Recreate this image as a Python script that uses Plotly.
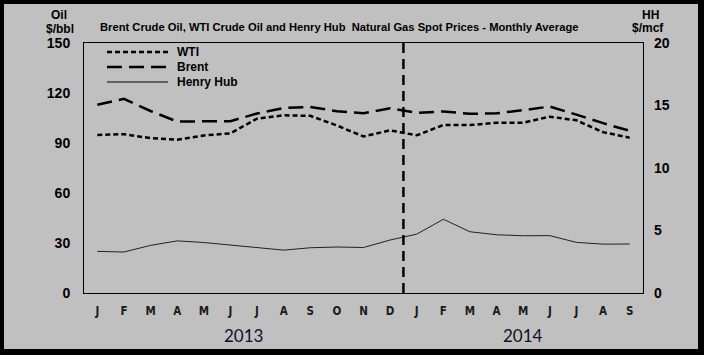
import plotly.graph_objects as go

# ---- data ----
months = ["J", "F", "M", "A", "M", "J", "J", "A", "S", "O", "N", "D",
          "J", "F", "M", "A", "M", "J", "J", "A", "S"]
years = ["2013", "2014"]
wti = [94.8, 95.3, 92.9, 92.0, 94.5, 95.8, 104.6, 106.6, 106.3, 100.5, 93.9, 97.6,
       94.6, 100.8, 100.8, 102.1, 102.2, 105.8, 103.6, 96.5, 93.2]
brent = [112.9, 116.5, 109.2, 102.9, 103.0, 103.1, 107.7, 111.0, 111.6, 109.1, 107.8, 110.8,
         108.1, 108.9, 107.5, 107.8, 109.7, 111.9, 107.0, 101.9, 97.3]
henry_hub = [3.33, 3.28, 3.81, 4.17, 4.04, 3.83, 3.62, 3.43, 3.62, 3.68, 3.64, 4.24,
             4.71, 5.90, 4.90, 4.66, 4.58, 4.59, 4.05, 3.91, 3.92]
oil_ticks = [0, 30, 60, 90, 120, 150]
hh_ticks = [0, 5, 10, 15, 20]

x = list(range(len(months)))

W, H = 704, 355
L, R, T, B = 84, 61, 43, 62
pw, ph = W - L - R, H - T - B


def px(v):
    return (v - L) / pw


def py(v):
    return (H - B - v) / ph


BOLD = "Liberation Sans"
fig = go.Figure()

fig.add_trace(go.Scatter(x=x, y=wti, mode="lines", name="WTI",
                         line=dict(color="black", width=2.5, dash="5px,3px")))
fig.add_trace(go.Scatter(x=x, y=brent, mode="lines", name="Brent",
                         line=dict(color="black", width=2.5, dash="15px,7px")))
fig.add_trace(go.Scatter(x=x, y=henry_hub, mode="lines", name="Henry Hub", yaxis="y2",
                         line=dict(color="#222222", width=1)))

shapes = []
# year divider
shapes.append(dict(type="line", xref="x", yref="paper", x0=11.5, x1=11.5, y0=0, y1=1,
                   line=dict(color="black", width=2.5, dash="10px,6px")))
# legend samples
leg = [("WTI", "5px,3px", 2.5, 52), ("Brent", "15px,7px", 2.5, 67), ("Henry Hub", "solid", 1, 82)]
annotations = []
for name, dash, wdt, yy in leg:
    shapes.append(dict(type="line", xref="paper", yref="paper", x0=px(107), x1=px(168),
                       y0=py(yy), y1=py(yy), line=dict(color="black", width=wdt, dash=dash)))
    annotations.append(dict(text="<b>%s</b>" % name, xref="paper", yref="paper",
                            x=px(175), y=py(yy), xanchor="left", yanchor="middle",
                            showarrow=False, font=dict(family=BOLD, size=12, color="black")))
# frame / shadow border
for x0, x1, y0, y1 in [(0, 4, 0, H), (0, W, 0, 4), (698, W, 0, H), (0, W, 349, H)]:
    shapes.append(dict(type="rect", xref="paper", yref="paper", x0=px(x0), x1=px(x1),
                       y0=py(y1), y1=py(y0), fillcolor="black", line=dict(width=0),
                       layer="above"))

# title and axis titles
annotations += [
    dict(text="<b>Brent Crude Oil, WTI Crude Oil and Henry Hub  Natural Gas Spot Prices - Monthly Average</b>",
         xref="paper", yref="paper", x=px(98), y=py(27), xanchor="left", yanchor="middle",
         showarrow=False, font=dict(family=BOLD, size=11.2, color="black")),
    dict(text="<b>Oil</b>", xref="paper", yref="paper", x=px(59), y=py(15), showarrow=False,
         xanchor="center", yanchor="middle", font=dict(family=BOLD, size=12, color="black")),
    dict(text="<b>$/bbl</b>", xref="paper", yref="paper", x=px(60), y=py(29), showarrow=False,
         xanchor="center", yanchor="middle", font=dict(family=BOLD, size=12, color="black")),
    dict(text="<b>HH</b>", xref="paper", yref="paper", x=px(650), y=py(15), showarrow=False,
         xanchor="center", yanchor="middle", font=dict(family=BOLD, size=12, color="black")),
    dict(text="<b>$/mcf</b>", xref="paper", yref="paper", x=px(648), y=py(28), showarrow=False,
         xanchor="center", yanchor="middle", font=dict(family=BOLD, size=12, color="black")),
]
# year labels
for yr, xc in [(years[0], 5.5), (years[1], 16.0)]:
    annotations.append(dict(text=yr, xref="x", yref="paper", x=xc, y=py(335), showarrow=False,
                            xanchor="center", yanchor="middle",
                            font=dict(family="Lato", size=17, color="#10102a")))

fig.update_layout(
    width=W, height=H,
    margin=dict(l=L, r=R, t=T, b=B, pad=0),
    paper_bgcolor="#C0C0C0", plot_bgcolor="#C0C0C0",
    showlegend=False,
    shapes=shapes, annotations=annotations,
    xaxis=dict(range=[-0.5, 20.5], tickmode="array", tickvals=x, ticktext=months,
               showgrid=False, zeroline=False, showline=True, mirror=True,
               linecolor="black", linewidth=1, ticks="", ticklabelstandoff=7,
               tickfont=dict(family="Liberation Sans Narrow, DejaVu Sans Condensed, Liberation Sans",
                             size=11.5, color="#1a1a1a", weight="bold")),
    yaxis=dict(range=[0, 150], tickmode="array", tickvals=oil_ticks,
               showgrid=False, zeroline=False, showline=True, mirror=True,
               linecolor="black", linewidth=1, ticks="", ticklabelstandoff=10,
               tickfont=dict(family=BOLD, size=14, color="black", weight="bold")),
    yaxis2=dict(range=[0, 20], tickmode="array", tickvals=hh_ticks, overlaying="y",
                side="right", showgrid=False, zeroline=False, showline=False,
                ticks="", ticklabelstandoff=10,
                tickfont=dict(family=BOLD, size=14, color="black", weight="bold")),
)

fig.write_html("out.html", config={"displayModeBar": False},
               post_script="document.body.style.margin='0';")
